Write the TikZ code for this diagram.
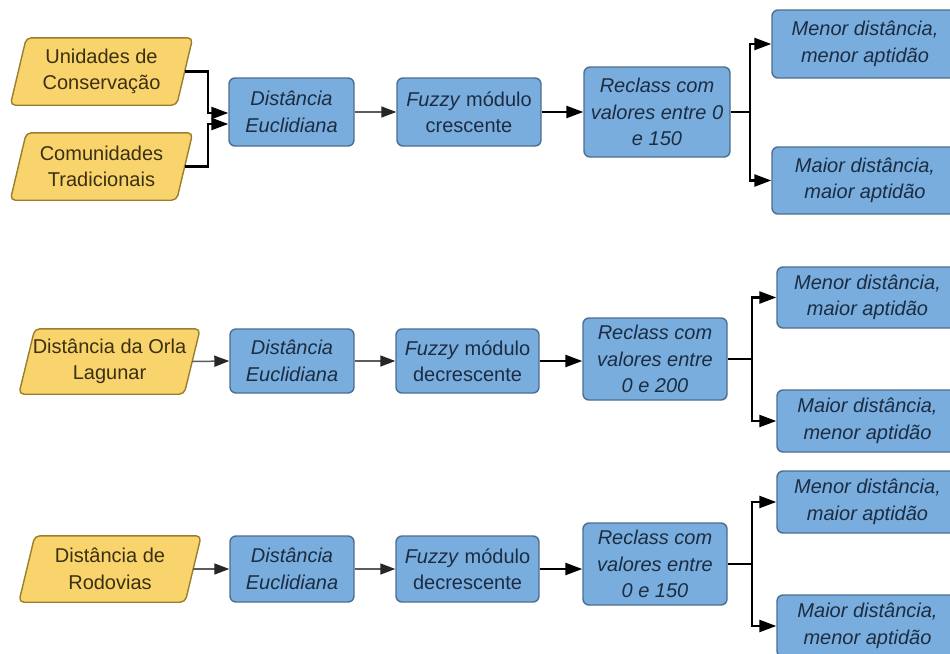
\documentclass[tikz,border=0pt]{standalone}
\usepackage{fontspec}
\setmainfont{Liberation Sans}
\usetikzlibrary{arrows.meta}
\definecolor{bfill}{HTML}{79ADDD}
\definecolor{bdraw}{HTML}{4D6E8E}
\definecolor{btext}{HTML}{1C2D42}
\definecolor{yfill}{HTML}{F9D46C}
\definecolor{ydraw}{HTML}{9A7E2C}
\definecolor{ytext}{HTML}{3A3012}
\definecolor{gline}{HTML}{5C5C5C}
\pgfdeclarelayer{back}
\pgfdeclarelayer{bg}
\pgfsetlayers{back,bg,main}
\begin{document}
\begin{tikzpicture}[x=1pt,y=-1pt,
  font=\fontsize{20}{26.5}\selectfont,
  box/.style={draw=bdraw, fill=bfill, line width=1.4pt, rounded corners=6pt,
    text=btext, align=center, inner sep=0pt},
  paratext/.style={inner sep=0pt, text=ytext, align=center},
  paraline/.style={draw=ydraw, fill=yfill, line width=1.4pt, rounded corners=5pt},
  thinarrow/.style={draw=gline, line width=1.5pt,
    -{Triangle[length=15pt,width=11pt,color=black!85]}},
  thickarrow/.style={draw=black, line width=2.4pt,
    -{Triangle[length=17pt,width=12pt]}},
  thickline/.style={draw=black, line width=2.4pt},
]
\clip (0,0) rectangle (950,653);
\begin{pgfonlayer}{back}
\fill[white] (0,0) rectangle (950,653);
\end{pgfonlayer}

% ---------- Row 1 ----------
\node[paratext, minimum width=166pt, minimum height=67pt] (u) at (101.5,71.5) {Unidades de\\Conservação};
\node[paratext, minimum width=166pt, minimum height=67pt] (c) at (101.5,166.5) {Comunidades\\Tradicionais};
\node[box, minimum width=125pt, minimum height=68pt] (d1) at (291.5,112) {\itshape Distância\\\itshape Euclidiana};
\node[box, minimum width=144pt, minimum height=68pt] (f1) at (469,112) {\textit{Fuzzy} módulo\\crescente};
\node[box, minimum width=146pt, minimum height=90pt] (r1) at (657,112) {\itshape Reclass com\\\itshape valores entre 0\\\itshape e 150};
\node[box, minimum width=186pt, minimum height=68pt] (m1) at (865,44) {\itshape Menor distância,\\\itshape menor aptidão};
\node[box, minimum width=186pt, minimum height=67pt] (M1) at (865,180.5) {\itshape Maior distância,\\\itshape maior aptidão};

\coordinate (ja) at (208,113);
\coordinate (jb) at (208,124);
\coordinate (b1) at (750,112);
\draw[thickarrow] (u.east) -| (ja) -- (d1.west |- ja);
\draw[thickarrow] (c.east) -| (jb) -- (d1.west |- jb);
\draw[thinarrow] (d1.east) -- (f1.west);
\draw[thickarrow] (f1.east) -- (r1.west);
\draw[thickline] (r1.east) -- (b1);
\draw[thickarrow] (b1) |- (m1.west);
\draw[thickarrow] (b1) |- (M1.west);

% ---------- Row 2 ----------
\node[paratext, minimum width=165pt, minimum height=65pt] (o) at (109.5,361.5) {Distância da Orla\\Lagunar};
\node[box, minimum width=124pt, minimum height=64pt] (d2) at (292,361) {\itshape Distância\\\itshape Euclidiana};
\node[box, minimum width=143pt, minimum height=64pt] (f2) at (467.5,361) {\textit{Fuzzy} módulo\\decrescente};
\node[box, minimum width=144pt, minimum height=82pt] (r2) at (655,359) {\itshape Reclass com\\\itshape valores entre\\\itshape 0 e 200};
\node[box, minimum width=181pt, minimum height=61pt] (m2) at (867.5,297.5) {\itshape Menor distância,\\\itshape maior aptidão};
\node[box, minimum width=181pt, minimum height=62pt] (M2) at (867.5,421) {\itshape Maior distância,\\\itshape menor aptidão};

\coordinate (b2) at (752,359);
\draw[thinarrow] (o.east) -- (d2.west);
\draw[thinarrow] (d2.east) -- (f2.west);
\draw[thickarrow] (f2.east) -- (r2.west |- f2.east);
\draw[thickline] (r2.east) -- (b2);
\draw[thickarrow] (b2) |- (m2.west);
\draw[thickarrow] (b2) |- (M2.west);

% ---------- Row 3 ----------
\node[paratext, minimum width=166pt, minimum height=66pt] (rd) at (110,569) {Distância de\\Rodovias};
\node[box, minimum width=124pt, minimum height=66pt] (d3) at (292,569) {\itshape Distância\\\itshape Euclidiana};
\node[box, minimum width=143pt, minimum height=66pt] (f3) at (467.5,569) {\textit{Fuzzy} módulo\\decrescente};
\node[box, minimum width=144pt, minimum height=82pt] (r3) at (655,564) {\itshape Reclass com\\\itshape valores entre\\\itshape 0 e 150};
\node[box, minimum width=181pt, minimum height=62pt] (m3) at (867.5,502) {\itshape Menor distância,\\\itshape maior aptidão};
\node[box, minimum width=181pt, minimum height=62pt] (M3) at (867.5,626) {\itshape Maior distância,\\\itshape menor aptidão};

\coordinate (b3) at (752,564);
\draw[thinarrow] (rd.east) -- (d3.west);
\draw[thinarrow] (d3.east) -- (f3.west);
\draw[thickarrow] (f3.east) -- (r3.west |- f3.east);
\draw[thickline] (r3.east) -- (b3);
\draw[thickarrow] (b3) |- (m3.west);
\draw[thickarrow] (b3) |- (M3.west);

% ---------- parallelogram outlines ----------
\begin{pgfonlayer}{bg}
\foreach \n in {u,c,o,rd}{
  \path[paraline] ([xshift=8pt]\n.north west) -- ([xshift=8pt]\n.north east)
    -- ([xshift=-8pt]\n.south east) -- ([xshift=-8pt]\n.south west) -- cycle;
}
\end{pgfonlayer}
\end{tikzpicture}
\end{document}
